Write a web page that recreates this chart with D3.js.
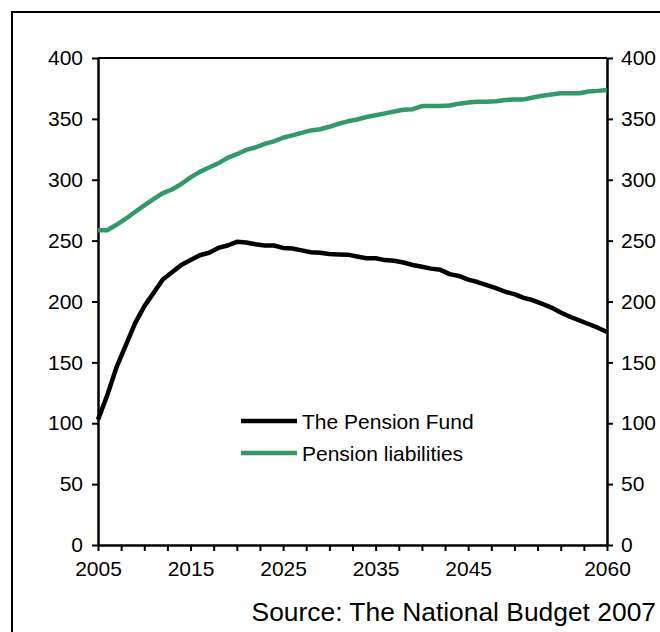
<!DOCTYPE html>
<html>
<head>
<meta charset="utf-8">
<script src="https://cdn.jsdelivr.net/npm/d3@7"></script>
<style>
  html, body { margin: 0; padding: 0; background: #fff; }
  svg { display: block; font-family: "Liberation Sans", Arial, Helvetica, sans-serif; }
</style>
</head>
<body>
<svg id="chart" width="660" height="632"></svg>
<script>
const years = d3.range(2005, 2061);
const pensionFund = [
  103, 123, 146, 164, 182, 196, 207, 218, 224, 230,
  234, 238, 240, 244, 246, 249, 248.5, 247, 246, 246,
  244, 243.5, 242, 240.5, 240, 239, 238.7, 238.5, 237, 235.5,
  235.5, 234, 233.5, 232, 230, 228.5, 227, 226, 222.5, 221,
  218, 216, 213.5, 211, 208, 206, 203, 201, 198, 195,
  191, 187.5, 184.5, 181.5, 178.5, 175
];
const pensionLiabilities = [
  258.5, 258.5, 263, 268, 273.5, 279, 284, 289, 292, 296.5,
  302, 306.5, 310, 313.5, 318, 321, 324.5, 326.5, 329.5, 331.5,
  334.5, 336.5, 338.5, 340.5, 341.5, 343.5, 346, 348, 349.5, 351.5,
  353, 354.5, 356, 357.5, 358, 360.5, 360.6, 360.6, 361, 362.5,
  363.5, 364, 364, 364.5, 365.5, 366, 366, 367.5, 369, 370,
  371, 371, 371, 372.5, 373, 373.7
];
const seriesNames = ["The Pension Fund", "Pension liabilities"];
const seriesColors = ["#000000", "#339966"];
const xTickLabels = [2005, 2015, 2025, 2035, 2045, 2060];
const yTicks = [0, 50, 100, 150, 200, 250, 300, 350, 400];
const sourceText = "Source: The National Budget 2007";

(function () {
const svg = d3.select("#chart");
const mLeft = 98, mRight = 607, mTop = 58, mBottom = 545;

const x = d3.scaleLinear().domain([2005, 2060]).range([mLeft, mRight]);
const y = d3.scaleLinear().domain([0, 400]).range([mBottom, mTop]);

// outer frame
svg.append("path")
  .attr("d", `M12,640 L12,12 L670,12`)
  .attr("fill", "none").attr("stroke", "#000").attr("stroke-width", 2);

// top line of plot area
svg.append("line")
  .attr("x1", mLeft).attr("x2", mRight).attr("y1", mTop).attr("y2", mTop)
  .attr("stroke", "#000").attr("stroke-width", 2);

const fontSize = 21;
const xTickVals = d3.range(2005, 2060.01, 2.5);

const xAxis = d3.axisBottom(x).tickValues(xTickVals).tickSize(6).tickPadding(10)
  .tickFormat(d => xTickLabels.includes(d) ? String(d) : "");
const yAxisL = d3.axisLeft(y).tickValues(yTicks).tickSize(6).tickPadding(9);
const yAxisR = d3.axisRight(y).tickValues(yTicks).tickSize(6).tickPadding(8);

function style(g) {
  g.select(".domain").attr("stroke", "#000").attr("stroke-width", 2.5);
  g.selectAll(".tick line").attr("stroke", "#000").attr("stroke-width", 2);
  g.selectAll(".tick text").attr("font-size", fontSize).attr("fill", "#000")
    .attr("font-family", '"Liberation Sans", Arial, sans-serif');
}

svg.append("g").attr("transform", `translate(0,${mBottom})`)
  .call(xAxis.tickSizeOuter(0)).call(style);
svg.append("g").attr("transform", `translate(${mLeft},0)`)
  .call(yAxisL.tickSizeOuter(0)).call(style);
svg.append("g").attr("transform", `translate(${mRight},0)`)
  .call(yAxisR.tickSizeOuter(0)).call(style);

const line = d3.line().x((d, i) => x(years[i])).y(d => y(d));

[[pensionLiabilities, 1], [pensionFund, 0]].forEach(([s, idx]) => {
  svg.append("path").datum(s)
    .attr("d", line)
    .attr("fill", "none")
    .attr("stroke", seriesColors[idx])
    .attr("stroke-width", 4.5)
    .attr("stroke-linejoin", "round")
    .attr("stroke-linecap", "butt");
});

// legend
const legend = svg.append("g");
seriesNames.forEach((name, i) => {
  const ly = 421 + i * 32;
  legend.append("line")
    .attr("x1", 241).attr("x2", 297).attr("y1", ly).attr("y2", ly)
    .attr("stroke", seriesColors[i]).attr("stroke-width", 4.5);
  legend.append("text")
    .attr("x", 302).attr("y", ly + 7.5)
    .attr("font-size", fontSize).attr("fill", "#000")
    .text(name);
});

// source
svg.append("text")
  .attr("x", 656).attr("y", 621)
  .attr("text-anchor", "end")
  .attr("font-size", 26.4).attr("fill", "#000")
  .text(sourceText);
})();
</script>
</body>
</html>
